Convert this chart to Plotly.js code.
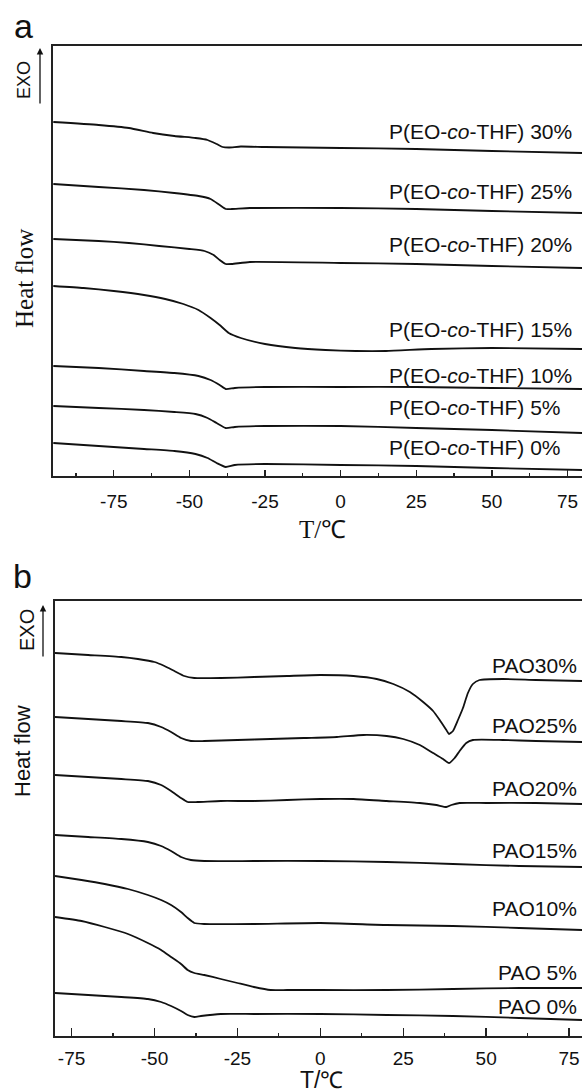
<!DOCTYPE html>
<html><head><meta charset="utf-8">
<script src="https://cdn.plot.ly/plotly-3.0.1.min.js"></script>
<style>html,body{margin:0;padding:0;background:#fff}#chart{width:582px;height:1092px}</style>
</head><body><div id="chart"></div>
<script>
// ---- Panel a: P(EO-co-THF) series (T in °C, heat flow a.u.) ----
const aLabels = ["P(EO-<i>co</i>-THF) 30%","P(EO-<i>co</i>-THF) 25%","P(EO-<i>co</i>-THF) 20%","P(EO-<i>co</i>-THF) 15%","P(EO-<i>co</i>-THF) 10%","P(EO-<i>co</i>-THF) 5%","P(EO-<i>co</i>-THF) 0%"];
const aT30 = [-95,-80,-70,-62,-55,-48,-44,-41,-39,-37,-33,-25,0,25,50,80];
const aH30 = [354,351,348,343,340,338,336,332,329,328.5,329.5,329,328,327,325,323];
const aT25 = [-95,-80,-65,-55,-47,-43,-40,-38,-36,-30,0,25,50,80];
const aH25 = [292,289,286,283,280,277,271,267,267,268,268,267,265,263];
const aT20 = [-95,-80,-70,-60,-50,-45,-42,-40,-38,-36,-30,0,25,50,80];
const aH20 = [237,235,233,230,227,225,221,216,212,212,214,213,212,210,208];
const aT15 = [-95,-85,-75,-65,-58,-52,-47,-43,-40,-37,-33,-25,-15,-5,5,15,30,50,80];
const aH15 = [190,188,185,181,177,172,166,158,151,143,138,132,128,126,125,125,127,128,127];
const aT10 = [-95,-80,-65,-55,-47,-43,-40,-38,-35,-25,0,25,50,80];
const aH10 = [110,108,105,103,100,96,91,87,88,89,89,89,88,87];
const aT5 = [-95,-80,-65,-55,-48,-44,-41,-38,-35,-25,0,25,50,80];
const aH5 = [70,68,66,64,62,58,53,48,49,50,50,48,46,43];
const aT0 = [-95,-80,-65,-55,-48,-44,-41,-38,-35,-25,0,25,50,80];
const aH0 = [33,30,27,25,22,18,13,9,11,12,11,10,8,6];
const aLabelY = [344,284,231,146,100,68,28];

// ---- Panel b: PAO series ----
const bLabels = ["PAO30%","PAO25%","PAO20%","PAO15%","PAO10%","PAO 5%","PAO 0%"];
const bT30 = [-80,-70,-60,-55,-50,-47,-44,-41,-38,-30,-20,-10,0,10,17,22,27,31,34,36,38,38.8,40,41.5,43,44.5,46,48,55,65,79];
const bH30 = [383,381,379,377,374,370,365,360,358,358,359,360,361,360,357,352,344,334,325,316,306,302,305,316,328,343,352,356,357,356,355];
const bT25 = [-80,-70,-60,-52,-48,-45,-42,-39,-35,-25,-15,-5,5,13,20,25,30,34,37,38.8,40.5,42,44,46,55,65,79];
const bH25 = [319,317,315,313,309,304,298,295,295,296,297,298,299,301,300,297,291,283,277,273,278,285,293,296,296,295,294];
const bT20 = [-80,-70,-60,-52,-48,-45,-42,-40,-37,-30,-20,-10,0,10,20,30,35,38,39.5,42,50,65,79];
const bH20 = [261,259,257,255,251,245,238,234,234,235,235,236,237,237,235,233,231,229,231,233,233,233,232];
const bT15 = [-80,-70,-60,-52,-48,-45,-42,-39,-35,-20,0,20,40,60,79];
const bH15 = [201,199,197,194,190,185,179,176,175,175,175,174,172,170,169];
const bT10 = [-80,-72,-65,-58,-52,-48,-45,-42,-40,-38,-35,-20,0,20,40,60,79];
const bH10 = [160,156,152,147,141,136,131,124,118,113,112,112,113,111,110,108,106];
const bT5 = [-80,-72,-65,-58,-52,-48,-45,-42,-40,-38,-35,-30,-25,-20,-15,-10,0,20,40,60,79];
const bH5 = [119,115,109,102,93,86,79,72,66,63,61,57,53,49,46,46,46,46,47,48,48];
const bT0 = [-80,-70,-60,-52,-48,-45,-42,-40,-38,-36,-30,-20,0,20,40,60,79];
const bH0 = [43,41,39,37,34,30,25,21,19,20,22,22,22,21,20,18,16];
const bLabelY = [371,311,248,186,128,64,30];

const tickVals = [-75,-50,-25,0,25,50,75];
const tickText = ["-75","-50","-25","0","25","50","75"];

const lineStyle = {color:'#111', width:1.8, shape:'spline', smoothing:0.5};
const aSeries = [[aT30,aH30],[aT25,aH25],[aT20,aH20],[aT15,aH15],[aT10,aH10],[aT5,aH5],[aT0,aH0]];
const bSeries = [[bT30,bH30],[bT25,bH25],[bT20,bH20],[bT15,bH15],[bT10,bH10],[bT5,bH5],[bT0,bH0]];
const traces = [];
aSeries.forEach((s,i)=>traces.push({x:s[0],y:s[1],type:'scatter',mode:'lines',line:lineStyle,xaxis:'x',yaxis:'y',name:aLabels[i],hoverinfo:'skip'}));
bSeries.forEach((s,i)=>traces.push({x:s[0],y:s[1],type:'scatter',mode:'lines',line:lineStyle,xaxis:'x2',yaxis:'y2',name:bLabels[i],hoverinfo:'skip'}));

const sans = 'Liberation Sans, Arial, sans-serif';
const serif = 'Liberation Serif, Times New Roman, serif';
const ann = [];
aLabels.forEach((t,i)=>ann.push({xref:'x',yref:'y',x:15.3,y:aLabelY[i],xanchor:'left',yanchor:'middle',text:t,showarrow:false,font:{family:sans,size:21,color:'#111'}}));
bLabels.forEach((t,i)=>ann.push({xref:'x2',yref:'y2',x:78,y:bLabelY[i],xanchor:'right',yanchor:'middle',text:t,showarrow:false,font:{family:sans,size:21,color:'#111'}}));
// panel letters & axis titles
ann.push({xref:'paper',yref:'paper',x:23/582,y:1-26/1092,xanchor:'center',yanchor:'middle',text:'a',showarrow:false,font:{family:sans,size:34,color:'#111'}});
ann.push({xref:'paper',yref:'paper',x:22/582,y:1-576/1092,xanchor:'center',yanchor:'middle',text:'b',showarrow:false,font:{family:sans,size:34,color:'#111'}});
ann.push({xref:'paper',yref:'paper',x:322/582,y:1-529/1092,xanchor:'center',yanchor:'middle',text:'T/℃',showarrow:false,font:{family:serif,size:25,color:'#111'}});
ann.push({xref:'paper',yref:'paper',x:321/582,y:1-1080/1092,xanchor:'center',yanchor:'middle',text:'T/℃',showarrow:false,font:{family:sans,size:23,color:'#111'}});
ann.push({xref:'paper',yref:'paper',x:24/582,y:1-279/1092,xanchor:'center',yanchor:'middle',text:'Heat flow',textangle:-90,showarrow:false,font:{family:serif,size:25,color:'#111'}});
ann.push({xref:'paper',yref:'paper',x:22/582,y:1-751/1092,xanchor:'center',yanchor:'middle',text:'Heat flow',textangle:-90,showarrow:false,font:{family:sans,size:22,color:'#111'}});
ann.push({xref:'paper',yref:'paper',x:24/582,y:1-80/1092,xanchor:'center',yanchor:'middle',text:'EXO',textangle:-90,showarrow:false,font:{family:sans,size:18,color:'#111'}});
ann.push({xref:'paper',yref:'paper',x:27/582,y:1-630/1092,xanchor:'center',yanchor:'middle',text:'EXO',textangle:-90,showarrow:false,font:{family:sans,size:20,color:'#111'}});
// EXO arrows
ann.push({xref:'paper',yref:'paper',x:40/582,y:1-48/1092,ax:0,ay:57,text:'',showarrow:true,arrowhead:2,arrowsize:1,arrowwidth:1.3,arrowcolor:'#111'});
ann.push({xref:'paper',yref:'paper',x:43/582,y:1-605/1092,ax:0,ay:53,text:'',showarrow:true,arrowhead:2,arrowsize:1,arrowwidth:1.3,arrowcolor:'#111'});

const xCommon = {tickvals:tickVals,ticktext:tickText,ticks:'inside',showline:true,linecolor:'#222',linewidth:1.6,mirror:true,showgrid:false,zeroline:false,
  tickfont:{family:sans,size:19,color:'#111'},tickcolor:'#222',tickwidth:1.4,
  minor:{dtick:25,tick0:-87.5,ticks:'inside',ticklen:3,tickcolor:'#222',tickwidth:1.2,showgrid:false}};
const layout = {
  width:582,height:1092,margin:{l:0,r:0,t:0,b:0},paper_bgcolor:'#fff',plot_bgcolor:'#fff',showlegend:false,
  xaxis:Object.assign({},xCommon,{domain:[53/582,1],range:[-95.1,79.8],anchor:'y',ticklen:6,ticklabelstandoff:8}),
  yaxis:{domain:[1-476/1092,1-46/1092],range:[0,430],showline:true,linecolor:'#222',linewidth:1.6,ticks:'',showticklabels:false,showgrid:false,zeroline:false,anchor:'x'},
  xaxis2:Object.assign({},xCommon,{domain:[55/582,1],range:[-80,78.9],anchor:'y2',ticklen:8,linewidth:2,ticklabelstandoff:4}),
  yaxis2:{domain:[1-1036/1092,1-601/1092],range:[0,435],showline:true,linecolor:'#222',linewidth:2,ticks:'',showticklabels:false,showgrid:false,zeroline:false,anchor:'x2'},
  annotations:ann
};
Plotly.newPlot('chart',traces,layout,{staticPlot:true,displayModeBar:false});
</script></body></html>
